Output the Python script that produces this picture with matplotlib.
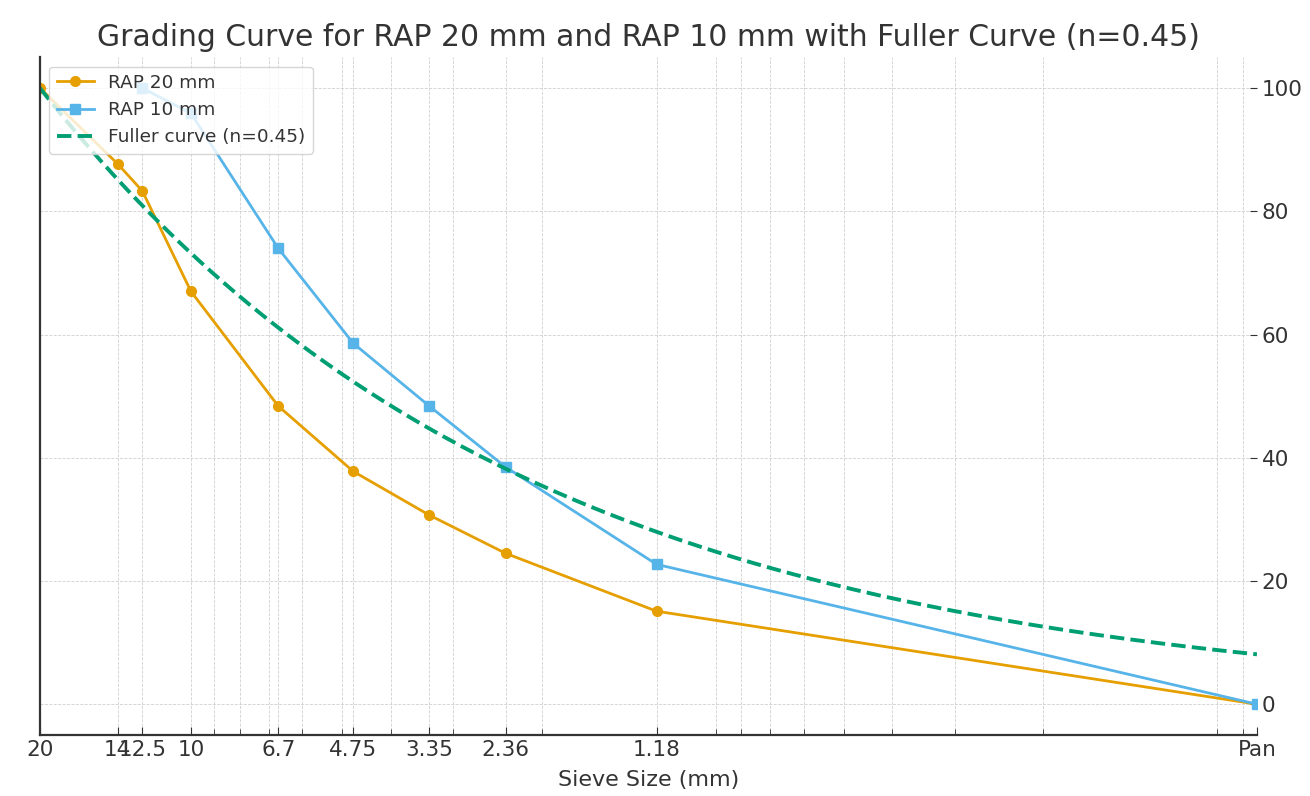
import matplotlib
matplotlib.use("Agg")
import matplotlib.pyplot as plt
from matplotlib.ticker import NullFormatter
import numpy as np

# sieve sizes (mm); "Pan" is drawn at 0.075 mm
sieve_20 = [20, 14, 12.5, 10, 6.7, 4.75, 3.35, 2.36, 1.18, 0.075]
passing_20 = [100, 87.7, 83.3, 67.0, 48.4, 37.8, 30.7, 24.5, 15.1, 0]

sieve_10 = [12.5, 10, 6.7, 4.75, 3.35, 2.36, 1.18, 0.075]
passing_10 = [100, 95.9, 74.0, 58.6, 48.4, 38.5, 22.7, 0]

tick_sizes = [20, 14, 12.5, 10, 6.7, 4.75, 3.35, 2.36, 1.18, 0.075]
tick_labels = ["20", "14", "12.5", "10", "6.7", "4.75", "3.35", "2.36", "1.18", "Pan"]

# Fuller curve parameters
d_max = 20
n_exp = 0.45
pan_size = 0.075

fuller_d = np.logspace(np.log10(d_max), np.log10(pan_size), 200)
fuller_p = 100 * (fuller_d / d_max) ** n_exp

txt = "#333333"
fig = plt.figure(figsize=(13.1, 7.96), dpi=100)
ax = fig.add_subplot(111)
fig.subplots_adjust(left=0.0305, right=0.9595, bottom=0.0766, top=0.928)

ax.plot(sieve_20, passing_20, "-o", color="#E69F00", lw=2, ms=7, label="RAP 20 mm")
ax.plot(sieve_10, passing_10, "-s", color="#56B4E9", lw=2, ms=7, label="RAP 10 mm")
ax.plot(fuller_d, fuller_p, "--", color="#009E73", lw=2.8, label="Fuller curve (n=0.45)")

ax.set_xscale("log")
ax.set_xlim(d_max, pan_size)
ax.set_xticks(tick_sizes)
ax.set_xticklabels(tick_labels)
ax.xaxis.set_minor_formatter(NullFormatter())
ax.yaxis.tick_right()

ax.grid(True, which="both", linestyle="--", linewidth=0.6, color="#d0d0d0")
ax.set_axisbelow(True)
for s in ["top", "right"]:
    ax.spines[s].set_visible(False)
for s in ["left", "bottom"]:
    ax.spines[s].set_color(txt)
    ax.spines[s].set_linewidth(1.6)

ax.tick_params(axis="both", which="both", direction="in", colors=txt, labelsize=15.5)
ax.tick_params(axis="x", which="major", length=6)
ax.tick_params(axis="x", which="minor", length=4)
ax.tick_params(axis="y", length=5)

ax.set_title("Grading Curve for RAP 20 mm and RAP 10 mm with Fuller Curve (n=0.45)",
             fontsize=21.5, color=txt, pad=8)
ax.set_xlabel("Sieve Size (mm)", fontsize=16, color=txt, labelpad=7)
ax.legend(loc="upper left", fontsize=13.3, framealpha=0.8, labelcolor=txt)

plt.savefig("out.png", dpi=100)
